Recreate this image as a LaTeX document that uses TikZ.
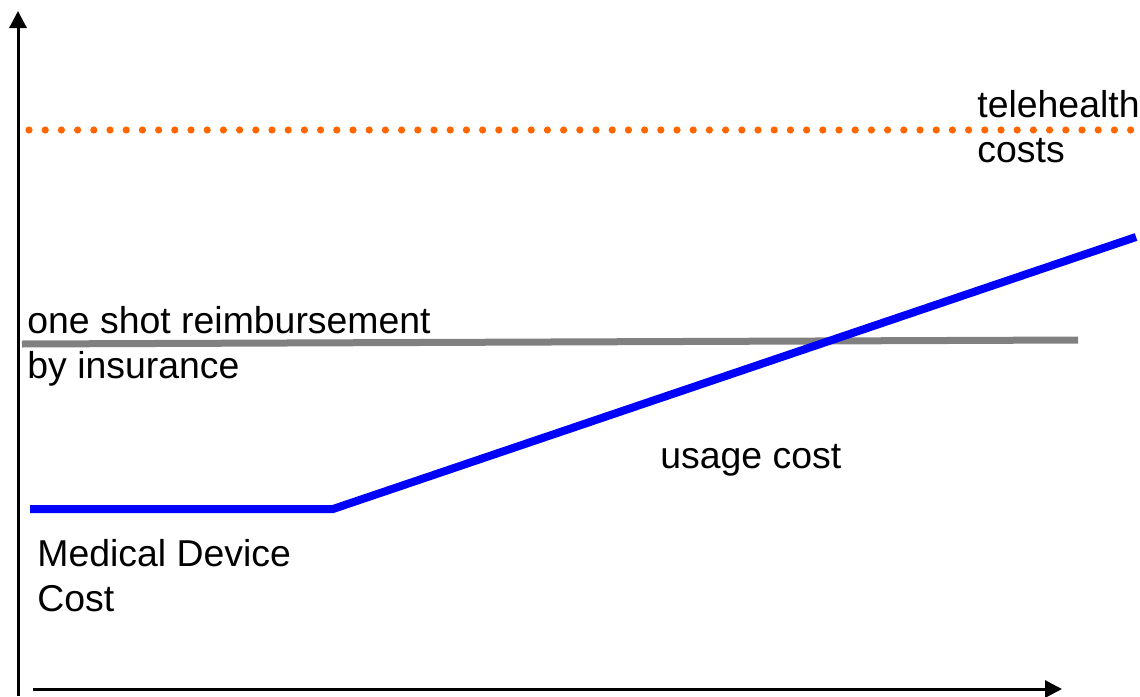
\documentclass[tikz,border=0pt]{standalone}
\usepackage{fontspec}
\setmainfont{Liberation Sans}
\usetikzlibrary{arrows.meta}
\definecolor{dotorange}{HTML}{FF6600}
\definecolor{lgray}{HTML}{808080}
\definecolor{lblue}{HTML}{0000FF}
\begin{document}
\begin{tikzpicture}[x=0.5pt,y=-0.5pt,
  axis/.style={line width=1.5pt,-{Triangle[length=8.5pt,width=8.5pt]}},
  lbl/.style={font=\fontsize{18.7pt}{22.5pt}\selectfont,inner sep=0pt,anchor=base west,align=left},
  costline/.style={line width=4pt},
]
\useasboundingbox (0,0) rectangle (1140,696);
% axes
\coordinate (yb) at (18,696);
\coordinate (yt) at (18,11);
\coordinate (xl) at (33,689);
\coordinate (xr) at (1062,689);
\draw[axis] (yb) -- (yt);
\draw[axis] (xl) -- (xr);
% telehealth dotted
\coordinate (o1) at (29,130);
\coordinate (o2) at (1140,130);
\draw[dotorange,line width=3.6pt,line cap=round,dash pattern=on 0pt off 8.1pt] (o1) -- (o2);
% gray insurance
\coordinate (g1) at (22,344);
\coordinate (g2) at (1078,340);
\draw[lgray,line width=3.5pt] (g1) -- (g2);
% blue cost
\coordinate (b1) at (30,509);
\coordinate (b2) at (333,509);
\coordinate (b3) at (1136,237);
\draw[lblue,costline] (b1) -- (b2) -- (b3);
% labels (base anchor = last line's baseline)
\node[lbl] (tele) at (977,162) {telehealth\\costs};
\node[lbl] (ins) at (27,378) {one shot reimbursement\\by insurance};
\node[lbl] (usage) at (660,468) {usage cost};
\node[lbl] (dev) at (37,611) {Medical Device\\Cost};
\end{tikzpicture}
\end{document}
